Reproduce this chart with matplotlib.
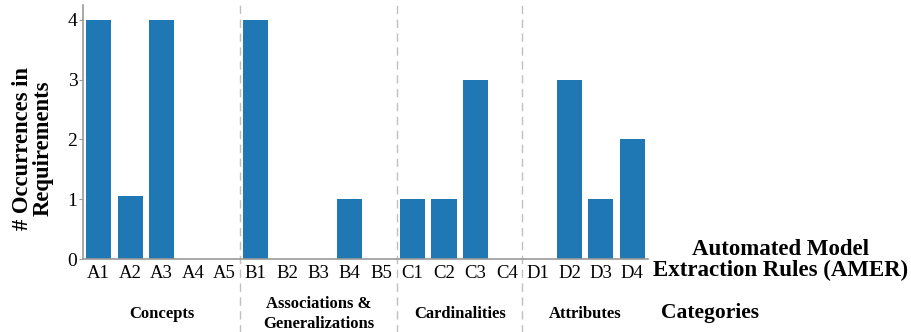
import matplotlib
matplotlib.use("Agg")
import matplotlib.pyplot as plt
import numpy as np

rules = ["A1", "A2", "A3", "A4", "A5",
         "B1", "B2", "B3", "B4", "B5",
         "C1", "C2", "C3", "C4",
         "D1", "D2", "D3", "D4"]
occurrences = [4, 1.05, 4, 0, 0,
               4, 0, 0, 1, 0,
               1, 1, 3, 0,
               0, 3, 1, 2]
categories = ["Concepts", "Associations &\nGeneralizations", "Cardinalities", "Attributes"]
group_sizes = [5, 5, 4, 4]
yticks = [0, 1, 2, 3, 4]

plt.rcParams['font.family'] = ['Liberation Serif', 'DejaVu Serif']

fig = plt.figure(figsize=(9.11, 3.32), dpi=100)
ax = fig.add_axes([83/911, 73/332, (648-83)/911, (259-5)/332])

x = np.arange(len(rules))
ax.bar(x, occurrences, width=0.8, color='#1f77b4')

ax.set_xlim(-0.5, len(rules) - 0.5)
ax.set_ylim(0, 4.25)
ax.set_yticks(yticks)
ax.set_xticks(x)
ax.set_xticklabels(rules, fontsize=13.5)
ax.tick_params(axis='y', labelsize=14, length=3, color='#999999', pad=1)
ax.tick_params(axis='x', length=0, pad=4.5)
for s in ['top', 'right']:
    ax.spines[s].set_visible(False)
for s in ['left', 'bottom']:
    ax.spines[s].set_color('#999999')
    ax.spines[s].set_linewidth(1.2)

fig.text(33/911, 1 - 148/332, "# Occurrences in\nRequirements", rotation=90,
         ha='center', va='center', fontsize=16.3, fontweight='bold', linespacing=1.0)

start = 0
for i, (cat, n) in enumerate(zip(categories, group_sizes)):
    center = start + (n - 1) / 2
    end = start + n
    if i < len(categories) - 1:
        ax.axvline(end - 0.5, ymin=-0.3, ymax=1.0, color='#c0c0c0', linestyle=(0, (6, 4)),
                   linewidth=1.0, clip_on=False)
    yoff = (259 - 314) / 254
    ax.text(center, yoff, cat, transform=ax.get_xaxis_transform(), ha='center', va='center',
            fontsize=12, fontweight='bold', linespacing=1.35)
    start = end

fig.text(781/911, 1 - 260/332, "Automated Model\nExtraction Rules (AMER)", ha='center', va='center',
         fontsize=16.5, fontweight='bold', linespacing=1.0)
fig.text(661/911, 1 - 313/332, "Categories", ha='left', va='center',
         fontsize=15.5, fontweight='bold')

fig.savefig("out.png", dpi=100)
